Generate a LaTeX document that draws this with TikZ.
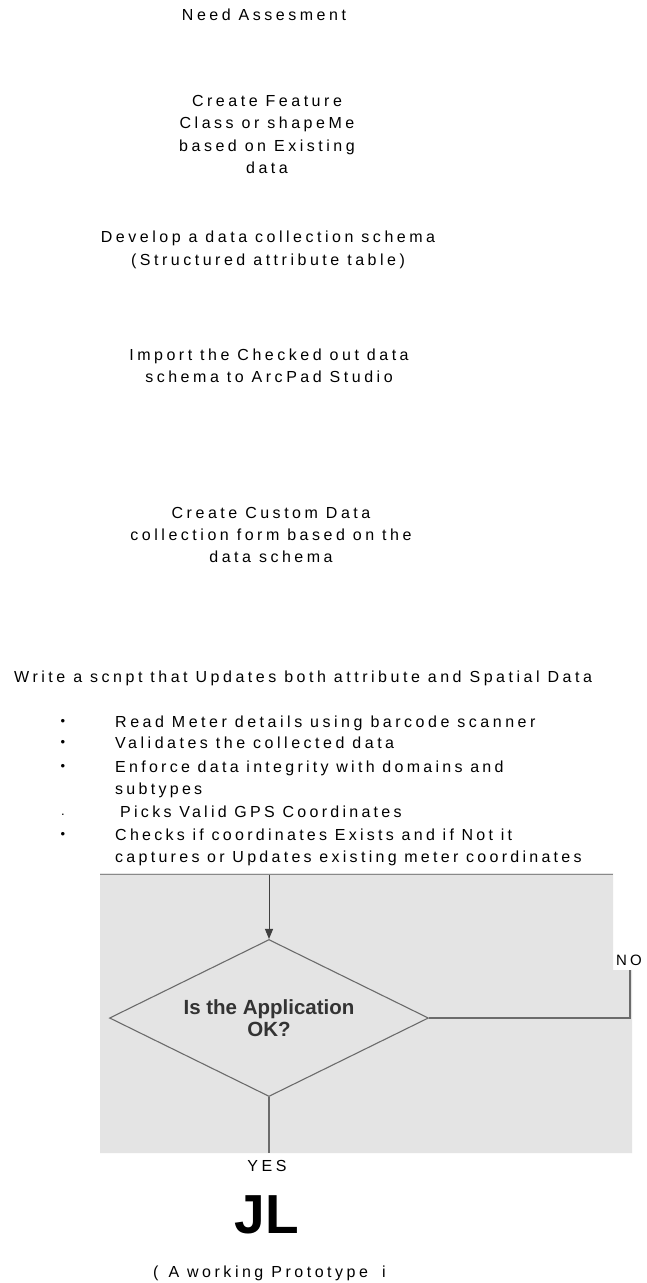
\documentclass[tikz,border=0pt]{standalone}
\usepackage{fontspec}
\setmainfont{Liberation Sans}[LetterSpace=22]
\newfontfamily\plainsans{Liberation Sans}
\newfontfamily\tightsans{Liberation Sans}[LetterSpace=20.5]
\usetikzlibrary{shapes.geometric,arrows.meta}
\definecolor{scan}{HTML}{E4E4E4}
\definecolor{lineg}{HTML}{6B6B6B}
\definecolor{txtg}{HTML}{333333}
\begin{document}
\begin{tikzpicture}[x=1pt,y=-1pt,
  lbl/.style={font=\fontsize{16}{22.3}\selectfont, inner sep=0pt, align=center},
  lline/.style={font=\fontsize{16}{22.3}\selectfont, inner sep=0pt, anchor=west, text height=11.5pt, text depth=0pt},
  tline/.style={lline, font=\tightsans\fontsize{16}{22.3}\selectfont},
  bul/.style={font=\fontsize{13}{13}\selectfont, inner sep=0pt},
  conn/.style={draw=lineg, line width=1.1pt},
  dec/.style={diamond, aspect=2, draw=lineg, line width=1.1pt, minimum width=319pt, minimum height=157pt, inner sep=0pt, align=center, text=txtg, font=\plainsans\bfseries\fontsize{20.5}{21.5}\selectfont}]
\useasboundingbox (0,0) rectangle (646,1283);
\fill[white] (0,0) rectangle (646,1283);
% scanned flowchart fragment
\fill[scan] (100,873) -- (613,873) -- (613,970) -- (632,970) -- (632,1153) -- (100,1153) -- cycle;
\draw[lineg!80, line width=1pt] (100,874.5) -- (613,874.5);
% text blocks
\node[lbl] (need) at (264,15) {Need Assesment};
\node[lbl] (feat) at (267,134.5) {Create Feature\\Class or shapeMe\\based on Existing\\data};
\node[lbl] (schema) at (268,250) {Develop a data collection schema\\(Structured attribute table)};
\node[lbl] (import) at (269,365.5) {Import the Checked out data\\schema to ArcPad Studio};
\node[lbl] (form) at (271,535) {Create Custom Data\\collection form based on the\\data schema};
\node[lline] (script) at (14,677) {Write a scnpt that Updates both attribute and Spatial Data};
\node[lline] (l1) at (115,722) {Read Meter details using barcode scanner};
\node[lline] (l2) at (115,743) {Validates the collected data};
\node[tline] (l3) at (115,767) {Enforce data integrity with domains and};
\node[tline] (l3b) at (115,789) {subtypes};
\node[tline] (l4) at (120,812) {Picks Valid GPS Coordinates};
\node[tline] (l5) at (115,835) {Checks if coordinates Exists and if Not it};
\node[tline] (l5b) at (115,857) {captures or Updates existing meter coordinates};
\node[bul] (b1) at (63,722) {•};
\node[bul] (b2) at (63,743) {•};
\node[bul] (b3) at (63,767) {•};
\node[bul] (b4) at (63,815) {.};
\node[bul] (b5) at (63,835) {•};
% decision
\node[dec] (dia) at (269,1018) {Is the Application\\OK?};
\coordinate (ain) at (269,875);
\coordinate (noend) at (630,970);
\coordinate (yesend) at (269,1153);
\draw[draw=black!75, line width=1pt, -{Triangle[length=10pt,width=8pt]}] (ain) -- (dia.north);
\draw[conn] (dia.east) -| (noend);
\draw[conn] (dia.south) -- (yesend);
\node[lbl, font=\fontsize{15}{18}\selectfont] (no) at (629,960) {NO};
\node[lbl] (yes) at (267,1166) {YES};
\node[font=\plainsans\bfseries\fontsize{55}{55}\selectfont, inner sep=0pt, anchor=base] (jl) at (267,1233) {JL};
\node[lline] (proto) at (153,1272) {(\hspace{10pt}A working Prototype\hspace{14pt}i};
\end{tikzpicture}
\end{document}
